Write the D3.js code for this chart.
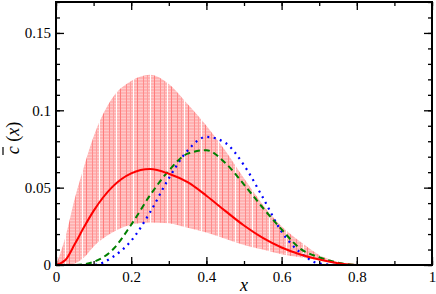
<!DOCTYPE html>
<html>
<head>
<meta charset="utf-8">
<script src="https://cdn.jsdelivr.net/npm/d3@7"></script>
<style>
  body { margin: 0; background: #fff; }
</style>
</head>
<body>
<svg id="chart" width="436" height="294"></svg>
<script>
// sample positions along x
const xs = [0, 0.025, 0.05, 0.075, 0.1, 0.15, 0.2, 0.25, 0.3, 0.35, 0.4, 0.45, 0.5, 0.55, 0.6, 0.65, 0.7, 0.75, 0.8];

// shaded band (lower / upper limits)
const bandLow  = [0, 0, 0.001, 0.005, 0.012, 0.021, 0.026, 0.0275, 0.027, 0.024, 0.021, 0.017, 0.013, 0.010, 0.007, 0.005, 0.003, 0.001, 0];
const bandHigh = [0, 0.018, 0.043, 0.064, 0.083, 0.108, 0.119, 0.123, 0.117, 0.104, 0.090, 0.074, 0.056, 0.039, 0.025, 0.015, 0.0065, 0.002, 0];

// curves
const redSolid  = [0, 0.0032, 0.0135, 0.0247, 0.035, 0.0505, 0.0592, 0.062, 0.059, 0.0535, 0.0448, 0.035, 0.0255, 0.0175, 0.0113, 0.0068, 0.0035, 0.0012, 0];
const greenDash = [0, 0, 0, 0.0005, 0.002, 0.0097, 0.026, 0.045, 0.061, 0.072, 0.0742, 0.066, 0.052, 0.037, 0.023, 0.0105, 0.005, 0.0015, 0];
const blueDot   = [0, 0, 0, 0, 0, 0.005, 0.0157, 0.034, 0.056, 0.074, 0.0828, 0.079, 0.0645, 0.0437, 0.0215, 0.008, 0.001, 0, 0];

const xTicks = [0, 0.2, 0.4, 0.6, 0.8, 1];
const yTicks = [0, 0.05, 0.1, 0.15];
const yTickLabels = ["0", "0.05", "0.1", "0.15"];

const FONT = "'Liberation Serif', 'Times New Roman', 'DejaVu Serif', serif";

const W = 436, H = 294;
const margin = { top: 2, right: 4, bottom: 29, left: 56 };
const w = W - margin.left - margin.right;
const h = H - margin.top - margin.bottom;

const svg = d3.select("#chart");

const x = d3.scaleLinear().domain([0, 1]).range([0, w]);
const y = d3.scaleLinear().domain([0, 0.17]).range([h, 0]);

const defs = svg.append("defs");
defs.append("clipPath").attr("id", "clip")
  .append("rect").attr("width", w).attr("height", h);

// striped fill like the original shading
const pat = defs.append("pattern")
  .attr("id", "stripes")
  .attr("patternUnits", "userSpaceOnUse")
  .attr("width", 17).attr("height", 3);
pat.append("rect").attr("width", 17).attr("height", 3).attr("fill", "#ffb3b3");
pat.append("rect").attr("y", 2).attr("width", 17).attr("height", 1).attr("fill", "#ffcaca");
pat.append("rect").attr("x", 2).attr("width", 1).attr("height", 3).attr("fill", "#ff8a8a");
pat.append("rect").attr("x", 6).attr("width", 1).attr("height", 3).attr("fill", "#ff9c9c");
pat.append("rect").attr("x", 9).attr("width", 1).attr("height", 3).attr("fill", "#ffffff");
pat.append("rect").attr("x", 13).attr("width", 1).attr("height", 3).attr("fill", "#ff7c7c");

const g = svg.append("g").attr("transform", `translate(${margin.left},${margin.top})`);
const plot = g.append("g").attr("clip-path", "url(#clip)");

const rows = xs.map((v, i) => ({ x: v, lo: bandLow[i], hi: bandHigh[i], r: redSolid[i], gr: greenDash[i], b: blueDot[i] }));

plot.append("path")
  .datum(rows)
  .attr("fill", "url(#stripes)")
  .attr("d", d3.area()
    .x(d => x(d.x))
    .y0(d => y(d.lo))
    .y1(d => y(d.hi))
    .curve(d3.curveMonotoneX));

const line = key => d3.line().x(d => x(d.x)).y(d => y(d[key])).curve(d3.curveMonotoneX);

plot.append("path").datum(rows)
  .attr("fill", "none").attr("stroke", "#0000ff").attr("stroke-width", 2.2)
  .attr("stroke-dasharray", "2,4.5")
  .attr("d", line("b"));

plot.append("path").datum(rows)
  .attr("fill", "none").attr("stroke", "#008000").attr("stroke-width", 2)
  .attr("stroke-dasharray", "6,4")
  .attr("d", line("gr"));

plot.append("path").datum(rows)
  .attr("fill", "none").attr("stroke", "#ff0000").attr("stroke-width", 2)
  .attr("d", line("r"));

// ticks on all four sides, pointing inward
const xMinor = d3.range(0, 1.0001, 0.1);
const yMinor = d3.range(0, 0.1701, 0.01);

g.append("g").attr("transform", `translate(0,${h})`)
  .call(d3.axisBottom(x).tickValues(xMinor).tickSize(-4).tickFormat(""));
g.append("g").attr("transform", `translate(0,${h})`)
  .call(d3.axisBottom(x).tickValues(xTicks).tickSize(-8).tickPadding(6).tickFormat(d3.format("")));
g.append("g")
  .call(d3.axisTop(x).tickValues(xMinor).tickSize(-4).tickFormat(""));
g.append("g")
  .call(d3.axisTop(x).tickValues(xTicks).tickSize(-8).tickFormat(""));

g.append("g")
  .call(d3.axisLeft(y).tickValues(yMinor).tickSize(-4).tickFormat(""));
g.append("g")
  .call(d3.axisLeft(y).tickValues(yTicks).tickSize(-8).tickPadding(5)
    .tickFormat((d, i) => yTickLabels[i]));
g.append("g").attr("transform", `translate(${w},0)`)
  .call(d3.axisRight(y).tickValues(yMinor).tickSize(-4).tickFormat(""));
g.append("g").attr("transform", `translate(${w},0)`)
  .call(d3.axisRight(y).tickValues(yTicks).tickSize(-8).tickFormat(""));

g.selectAll(".domain").remove();
g.selectAll(".tick line").attr("stroke", "#000").attr("stroke-width", 1.3);
g.selectAll(".tick text")
  .attr("font-family", FONT).style("font-family", FONT)
  .style("font-size", "15px").attr("fill", "#000");

g.append("rect")
  .attr("width", w).attr("height", h)
  .attr("fill", "none").attr("stroke", "#000").attr("stroke-width", 2);

// axis titles
svg.append("text")
  .attr("x", margin.left + w / 2).attr("y", 291)
  .attr("text-anchor", "middle")
  .style("font-family", FONT)
  .style("font-size", "18px").style("font-style", "italic")
  .text("x");

const yl = svg.append("g").attr("transform", "translate(19,138) rotate(-90)");
yl.append("text")
  .attr("text-anchor", "middle")
  .style("font-family", FONT)
  .style("font-size", "18px")
  .call(t => {
    t.append("tspan").style("font-style", "italic").text("c");
    t.append("tspan").text(" (");
    t.append("tspan").style("font-style", "italic").text("x");
    t.append("tspan").text(")");
  });
// bar over the c
yl.append("line")
  .attr("x1", -17).attr("x2", -9)
  .attr("y1", -16).attr("y2", -16)
  .attr("stroke", "#000").attr("stroke-width", 1.2);
</script>
</body>
</html>
